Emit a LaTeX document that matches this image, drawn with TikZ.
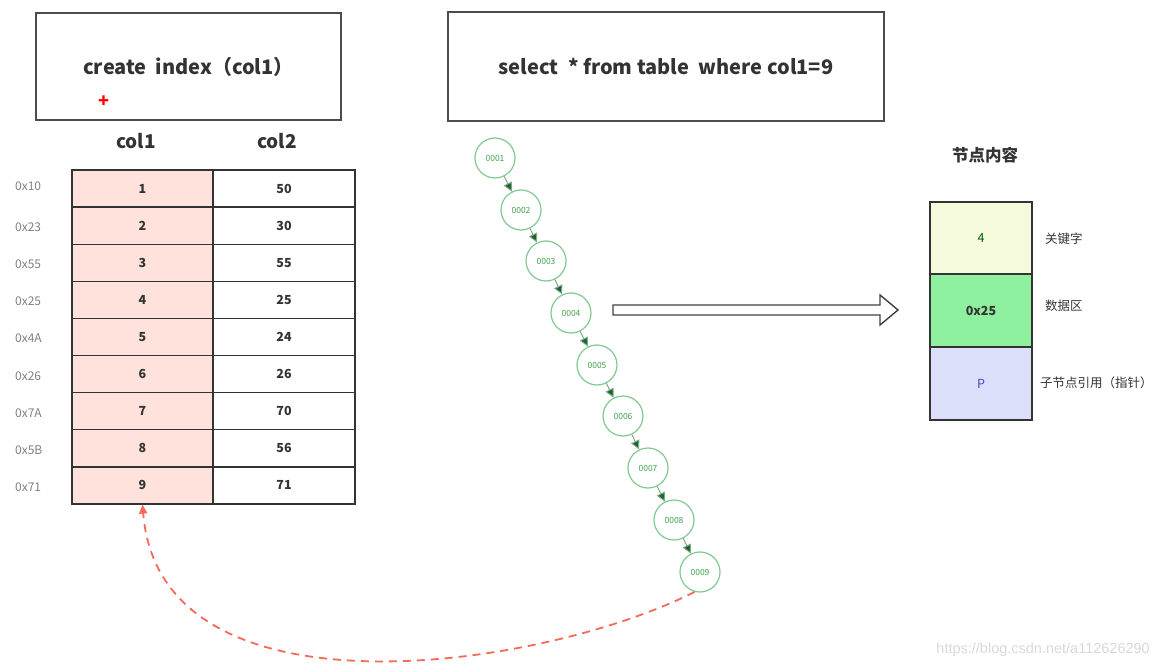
\documentclass[tikz,border=0pt]{standalone}
\usepackage{fontspec}
\setmainfont{Noto Sans CJK SC}
\newfontfamily\wmfont{Liberation Sans}
\usetikzlibrary{positioning,arrows.meta}
\definecolor{txtgray}{HTML}{333333}
\definecolor{addrgray}{HTML}{808080}
\definecolor{keypink}{HTML}{FFE2DC}
\definecolor{keyyellow}{HTML}{F6FADC}
\definecolor{datagreen}{HTML}{8FF0A0}
\definecolor{refblue}{HTML}{DCDFFA}
\definecolor{ringgreen}{HTML}{80C990}
\definecolor{numgreen}{HTML}{3FA24F}
\definecolor{tipgreen}{HTML}{17652A}
\definecolor{backred}{HTML}{F36A58}

\begin{document}
\begin{tikzpicture}[x=1pt,y=-1pt]
	\tikzstyle{every node}+=[inner sep=0pt]
	\tikzstyle{sqlbox}=[draw=black!70, line width=1.6pt, text=txtgray, font=\fontsize{20}{23}\selectfont\bfseries]
	\tikzstyle{keycell}=[draw=black!80, line width=1.3pt, fill=keypink, minimum width=141, minimum height=37.1, text=txtgray, font=\fontsize{12.5}{14}\selectfont\bfseries]
	\tikzstyle{valcell}=[draw=black!80, line width=1.3pt, fill=white, minimum width=142, minimum height=37.1, text=txtgray, font=\fontsize{12.5}{14}\selectfont\bfseries]
	\tikzstyle{addr}=[anchor=west, text=addrgray, font=\fontsize{12}{13}\selectfont]
	\tikzstyle{ring}=[circle, draw=ringgreen, line width=1.2pt, fill=white, minimum size=40, text=numgreen, font=\fontsize{8.5}{9}\selectfont]
	\tikzstyle{link}=[-{Triangle[length=9pt,width=9pt,fill=tipgreen]}, draw=ringgreen!55!gray, line width=1pt]
	\tikzstyle{field}=[draw=black!80, line width=1.3pt, minimum width=102, font=\fontsize{12.5}{14}\selectfont]
	\tikzstyle{fieldname}=[anchor=west, text=txtgray, font=\fontsize{12.5}{14}\selectfont]
	\useasboundingbox (0,0) rectangle (1158,668);

	% the two statements
	\node [sqlbox, minimum width=305, minimum height=107] (create) at (188.5,66.5) {create\ \ index（col1）};
	\node [text=red, font=\fontsize{18}{18}\selectfont\bfseries] (cursor) at (104,102) {+};
	\node [sqlbox, minimum width=436, minimum height=109] (query) at (666,66.5) {select\ \ * from table\ \ where col1=9};

	% table
	\node [text=txtgray, font=\fontsize{19}{22}\selectfont\bfseries] (head1) at (136,141) {col1};
	\node [text=txtgray, font=\fontsize{19}{22}\selectfont\bfseries] (head2) at (277,141) {col2};
	\node [keycell] (k1) at (142.5,188.6) {1};
	\node [valcell] (v1) at (284,188.6) {50};
	\node [addr] (a1) at (15,186) {0x10};
	\node [keycell] (k2) at (142.5,225.7) {2};
	\node [valcell] (v2) at (284,225.7) {30};
	\node [addr] (a2) at (15,227) {0x23};
	\node [keycell] (k3) at (142.5,262.8) {3};
	\node [valcell] (v3) at (284,262.8) {55};
	\node [addr] (a3) at (15,264) {0x55};
	\node [keycell] (k4) at (142.5,299.9) {4};
	\node [valcell] (v4) at (284,299.9) {25};
	\node [addr] (a4) at (15,301) {0x25};
	\node [keycell] (k5) at (142.5,337) {5};
	\node [valcell] (v5) at (284,337) {24};
	\node [addr] (a5) at (15,338) {0x4A};
	\node [keycell] (k6) at (142.5,374.1) {6};
	\node [valcell] (v6) at (284,374.1) {26};
	\node [addr] (a6) at (15,376) {0x26};
	\node [keycell] (k7) at (142.5,411.2) {7};
	\node [valcell] (v7) at (284,411.2) {70};
	\node [addr] (a7) at (15,413) {0x7A};
	\node [keycell] (k8) at (142.5,448.3) {8};
	\node [valcell] (v8) at (284,448.3) {56};
	\node [addr] (a8) at (15,450) {0x5B};
	\node [keycell] (k9) at (142.5,485.4) {9};
	\node [valcell] (v9) at (284,485.4) {71};
	\node [addr] (a9) at (15,487) {0x71};

	% index chain
	\node [ring] (n1) at (495,158) {0001};
	\node [ring] (n2) at (521,210) {0002};
	\node [ring] (n3) at (546,261) {0003};
	\node [ring] (n4) at (571,313) {0004};
	\node [ring] (n5) at (597,365) {0005};
	\node [ring] (n6) at (623,416) {0006};
	\node [ring] (n7) at (648,468) {0007};
	\node [ring] (n8) at (674,520) {0008};
	\node [ring] (n9) at (700,572) {0009};
	\draw [link] (n1) -- (n2);
	\draw [link] (n2) -- (n3);
	\draw [link] (n3) -- (n4);
	\draw [link] (n4) -- (n5);
	\draw [link] (n5) -- (n6);
	\draw [link] (n6) -- (n7);
	\draw [link] (n7) -- (n8);
	\draw [link] (n8) -- (n9);

	% node content
	\node [text=txtgray, font=\fontsize{16.5}{18}\selectfont\bfseries] (title) at (985,155) {节点内容};
	\node [field, minimum height=72, fill=keyyellow, text=green!35!black] (key) at (981,238) {4};
	\node [field, minimum height=73, fill=datagreen, text=txtgray, font=\fontsize{12.5}{14}\selectfont\bfseries] (data) at (981,310.5) {0x25};
	\node [field, minimum height=73, fill=refblue, text=blue!40!gray] (ptr) at (981,383.5) {P};
	\node [fieldname] (keyname) at (1045,239) {关键字};
	\node [fieldname] (dataname) at (1045,306) {数据区};
	\node [fieldname] (ptrname) at (1040,383) {子节点引用（指针）};

	% hollow arrow
	\draw [draw=black!75, line width=1.4pt, line join=miter] (613,305) -- (880,305) -- (880,295) -- (898,310) -- (880,325) -- (880,315) -- (613,315) -- cycle;

	% back to the row
	\draw [-{Triangle[length=9pt,width=8pt]}, draw=backred, line width=1.8pt, dash pattern=on 8pt off 6pt] (n9.255) .. controls (540,670) and (160,725) .. (k9.south);

	\node [anchor=east, text=black!15, font=\wmfont\fontsize{14.5}{16}\selectfont] (mark) at (1150,650) {https://blog.csdn.net/a112626290};
\end{tikzpicture}
\end{document}
